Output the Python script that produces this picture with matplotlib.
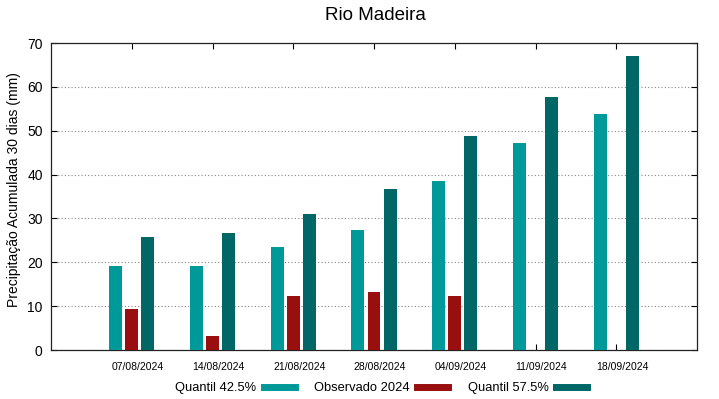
import matplotlib
matplotlib.use("Agg")
import matplotlib.pyplot as plt
import matplotlib.transforms as mtransforms
from matplotlib.lines import Line2D
import numpy as np

plt.rcParams['font.family'] = ['Liberation Sans', 'DejaVu Sans']

dates = ["07/08/2024", "14/08/2024", "21/08/2024", "28/08/2024",
         "04/09/2024", "11/09/2024", "18/09/2024"]
q425 = [19.2, 19.2, 23.4, 27.4, 38.5, 47.3, 53.8]
obs2024 = [9.4, 3.1, 12.2, 13.3, 12.3, np.nan, np.nan]
q575 = [25.8, 26.7, 30.9, 36.7, 48.9, 57.6, 67.0]

c_q425 = "#009999"
c_obs = "#990f0f"
c_q575 = "#006666"

fig = plt.figure(figsize=(7.19, 3.99), dpi=100)
ax = fig.add_axes([51/719, 1-350/399, (697-51)/719, (350-43)/399])

x = np.arange(len(dates))
w = 0.16
ax.bar(x - 0.2, q425, w, color=c_q425, zorder=3)
ax.bar(x, obs2024, w, color=c_obs, zorder=3)
ax.bar(x + 0.2, q575, w, color=c_q575, zorder=3)

ax.set_xlim(-1, 7)
ax.set_ylim(0, 70)
ax.set_yticks(range(0, 71, 10))
ax.set_xticks(x)
ax.set_xticklabels([])
offset = mtransforms.ScaledTranslation(6/100, -17/100, fig.dpi_scale_trans)
trans = ax.get_xaxis_transform() + offset
for xi, d in zip(x, dates):
    ax.text(xi, 0, d, transform=trans, ha='center', va='center', fontsize=7.5)
ax.tick_params(axis='x', direction='in', length=4, top=True, width=0.8)
ax.tick_params(axis='y', direction='in', length=4, right=True, labelsize=10, pad=6, width=0.8)
ax.yaxis.grid(True, linestyle=(0, (1, 2)), color='#888888', linewidth=0.8, zorder=0)
for s in ax.spines.values():
    s.set_linewidth(0.9)
    s.set_color('#222222')

ax.set_ylabel("Precipitação Acumulada 30 dias (mm)", fontsize=10)
ax.yaxis.set_label_coords(-0.046, 0.521)
fig.text(375/719, 1-16/399, "Rio Madeira", ha='center', va='center', fontsize=13.5)

handles = [Line2D([], [], color=c_q425, lw=5),
           Line2D([], [], color=c_obs, lw=5),
           Line2D([], [], color=c_q575, lw=5)]
fig.legend(handles, ["Quantil 42.5%", "Observado 2024", "Quantil 57.5%"],
           loc='center', bbox_to_anchor=(381/719, 1-388/399), ncol=3,
           frameon=False, markerfirst=False, fontsize=9.3, handlelength=2.4,
           columnspacing=1.5, handletextpad=0.6)

fig.savefig("out.png", dpi=100)
